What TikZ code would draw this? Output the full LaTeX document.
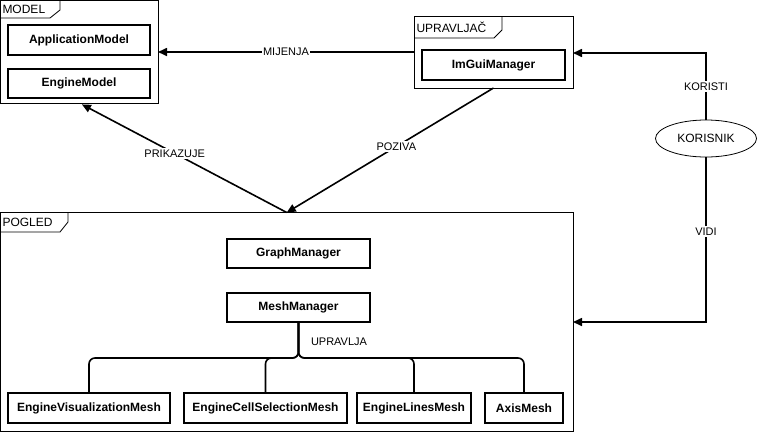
\documentclass[tikz,border=0pt]{standalone}
\usepackage{fontspec}
\setmainfont{Liberation Sans}
\usetikzlibrary{arrows.meta,shapes.geometric,calc}
\begin{document}
\begin{tikzpicture}[x=1pt,y=-1pt,
  every node/.style={inner sep=0pt, outer sep=0pt},
  frame/.style={draw, line width=0.8pt, anchor=north west},
  tabline/.style={line width=0.8pt},
  comp/.style={draw, line width=1.8pt, anchor=north west, font=\fontsize{12}{14}\selectfont\bfseries},
  lbl/.style={font=\fontsize{11}{13}\selectfont, fill=white, inner sep=1.5pt},
  tablbl/.style={font=\fontsize{12}{14}\selectfont, anchor=west},
  conn/.style={line width=1.6pt, -{Triangle[length=9pt,width=8pt]}},
  branch/.style={line width=1.6pt, rounded corners=6pt},
]
\useasboundingbox (0,0) rectangle (758,432);

% frames
\node[frame, minimum width=157.5pt, minimum height=102.5pt] (model) at (0.5,0.5) {};
\node[frame, minimum width=159pt, minimum height=72pt] (upr) at (414,16) {};
\node[frame, minimum width=572.5pt, minimum height=219pt] (pogled) at (0.5,212.5) {};

% tabs
\draw[tabline] (60,0.5) -- (60,10) -- (50,18) -- (0.5,18);
\node[tablbl] (modellbl) at (2.5,9.5) {MODEL};
\draw[tabline] (502,16) -- (502,30) -- (494,38) -- (414,38);
\node[tablbl] (uprlbl) at (416.5,27.5) {UPRAVLJAČ};
\draw[tabline] (68,212.5) -- (68,222) -- (60,232) -- (0.5,232);
\node[tablbl] (pogledlbl) at (2.5,222.5) {POGLED};

% components
\node[comp, minimum width=142pt, minimum height=30pt] (appm) at (8,25) {ApplicationModel};
\node[comp, minimum width=142pt, minimum height=29pt] (engm) at (8,69) {EngineModel};
\node[comp, minimum width=143pt, minimum height=30pt] (imgui) at (422,50) {ImGuiManager};
\node[comp, minimum width=143pt, minimum height=29pt] (graph) at (227,239) {GraphManager};
\node[comp, minimum width=143pt, minimum height=29pt] (mesh) at (227,293) {MeshManager};
\node[comp, minimum width=162pt, minimum height=30pt] (evm) at (8,393) {EngineVisualizationMesh};
\node[comp, minimum width=163pt, minimum height=30pt] (ecsm) at (184,393) {EngineCellSelectionMesh};
\node[comp, minimum width=114pt, minimum height=30pt] (elm) at (357,393) {EngineLinesMesh};
\node[comp, minimum width=78pt, minimum height=30pt] (axm) at (485,393) {AxisMesh};

% user
\node[draw, ellipse, line width=0.8pt, minimum width=101pt, minimum height=37pt,
      font=\fontsize{12}{14}\selectfont] (kor) at (706,138.5) {KORISNIK};

% connectors
\draw[conn] (upr.west |- 0,52) -- node[lbl]{MIJENJA} (model.east |- 0,52);
\draw[conn] (kor.north) -- node[lbl]{KORISTI} (kor.north |- 0,53) -- (upr.east |- 0,53);
\draw[conn] (kor.south) -- node[lbl, pos=0.45]{VIDI} (kor.south |- 0,322) -- (pogled.east |- 0,322);
\draw[conn, shorten >=3pt] (pogled.north) -- node[lbl, pos=0.54]{PRIKAZUJE} (model.south);
\draw[conn] (upr.south) -- node[lbl, pos=0.47]{POZIVA} (pogled.north);

% mesh branches
\draw[branch] (mesh.south) -- (mesh.south |- 0,358) -| (evm.north);
\draw[branch] (mesh.south) -- (mesh.south |- 0,358) -| (ecsm.north);
\draw[branch] (mesh.south) -- (mesh.south |- 0,358) -| (elm.north);
\draw[branch] (mesh.south) -- (mesh.south |- 0,358) -| (axm.north);
\node[font=\fontsize{11}{13}\selectfont, anchor=west] (upravlja) at ($(mesh.south)+(12.5,20)$) {UPRAVLJA};
\end{tikzpicture}
\end{document}
